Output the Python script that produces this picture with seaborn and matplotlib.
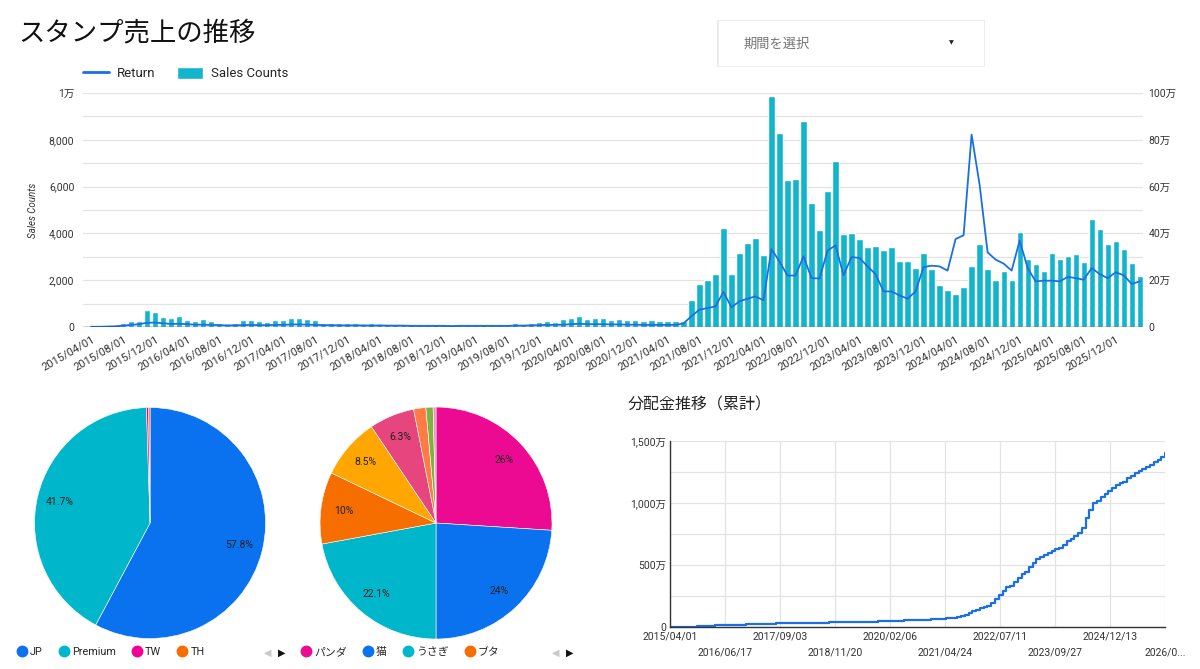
import numpy as np
import pandas as pd
import matplotlib
matplotlib.use('Agg')
import matplotlib.pyplot as plt
import matplotlib.patches as mpatches
from matplotlib.lines import Line2D
import seaborn as sns

# ---- data ----
start_month = '2015-04-01'

sales_counts = [
    20, 30, 50, 80, 170, 240, 270, 710, 640, 430,
    385, 455, 300, 260, 340, 260, 170, 130, 170, 300,
    300, 260, 230, 300, 300, 370, 370, 340, 285, 170,
    170, 170, 170, 170, 130, 170, 130, 130, 130, 90,
    115, 80, 100, 130, 70, 70, 100, 100, 100, 130,
    100, 100, 100, 170, 115, 170, 215, 240, 200, 340,
    400, 470, 330, 400, 400, 300, 360, 285, 285, 240,
    285, 240, 240, 240, 240, 1140, 1850, 2000, 2270, 4230,
    2270, 3180, 3590, 3820, 3090, 9860, 8300, 6280, 6320, 8790,
    5300, 4130, 5830, 7090, 3970, 4000, 3770, 3430, 3480, 3290,
    3430, 2830, 2830, 2520, 3180, 2480, 1810, 1580, 1420, 1700,
    2590, 3550, 2480, 1990, 2410, 1990, 4040, 2890, 2680, 2380,
    3150, 2890, 3020, 3130, 2790, 4620, 4190, 3560, 3660, 3320,
    2720, 2180,
]

# monthly return, in 万 (10,000 yen)
returns_man = [
    0.1, 0.1, 0.2, 0.3, 0.6, 0.9, 1.2, 1.8, 1.9, 1.6,
    1.3, 1.4, 1.2, 1.0, 1.0, 0.9, 0.8, 0.7, 0.7, 0.8,
    0.9, 0.8, 0.8, 0.9, 0.9, 1.1, 1.1, 1.0, 0.9, 0.8,
    0.8, 0.7, 0.7, 0.7, 0.7, 0.6, 0.7, 0.6, 0.6, 0.6,
    0.5, 0.5, 0.5, 0.5, 0.5, 0.4, 0.5, 0.5, 0.5, 0.5,
    0.5, 0.5, 0.5, 0.6, 0.6, 0.7, 0.8, 0.9, 0.9, 1.0,
    1.2, 1.4, 1.2, 1.2, 1.2, 1.1, 1.1, 1.0, 1.0, 0.9,
    0.9, 0.9, 0.9, 0.9, 1.5, 4.6, 7.4, 8.1, 8.8, 15.0,
    8.4, 11.0, 12.1, 13.1, 11.4, 33.3, 28.0, 22.0, 22.0, 30.2,
    20.9, 20.7, 32.6, 34.9, 22.1, 29.9, 29.5, 25.9, 22.6, 15.2,
    15.2, 13.5, 12.1, 15.2, 25.6, 26.2, 25.9, 24.1, 37.6, 39.2,
    82.2, 60.8, 31.9, 28.8, 27.1, 24.1, 36.9, 25.2, 19.5, 19.8,
    19.8, 19.5, 21.4, 20.9, 20.2, 25.2, 22.6, 20.9, 23.4, 22.1,
    18.4, 19.5,
]

# cumulative distribution, in 万
cumulative_man = [
    0, 0.2, 0.5, 1, 1.5, 2.5, 3.5, 5, 7, 8.5,
    10, 11.5, 13, 14, 15.5, 16.5, 17.5, 18.3, 19, 20,
    21, 22, 22.8, 23.7, 24.6, 25.6, 26.7, 27.7, 28.6, 29.3,
    30, 30.6, 31.2, 31.8, 32.4, 33, 33.6, 34.2, 34.8, 35.2,
    35.6, 36, 36.5, 37, 37.8, 38.3, 38.8, 39.4, 40, 40.6,
    41.2, 41.8, 42.4, 43.2, 44, 44.8, 45.8, 46.8, 48, 49.2,
    50.5, 52, 53.3, 54.6, 55.8, 57, 58, 59, 60, 62,
    64, 65, 67, 69, 71, 73, 80, 90, 100, 110,
    125, 140, 151, 163, 172, 190, 225, 255, 290, 320,
    331, 364, 395, 425, 444, 485, 515, 550, 565, 580,
    598, 612, 625, 640, 660, 690, 710, 735, 760, 800,
    880, 945, 997, 1020, 1050, 1075, 1100, 1125, 1145, 1160,
    1172, 1200, 1220, 1239, 1255, 1275, 1290, 1307, 1330, 1350,
    1375, 1401,
]

cum_tick_dates = ['2015/04/01', '2016/06/17', '2017/09/03', '2018/11/20', '2020/02/06',
                  '2021/04/24', '2022/07/11', '2023/09/27', '2024/12/13', '2026/03/01']

region_names = ['JP', 'Premium', 'TW', 'TH']
region_share = [57.8, 41.7, 0.3, 0.2]

character_names = ['パンダ', '猫', 'うさぎ', 'ブタ']
character_share = [26.0, 24.0, 22.1, 10.0, 8.5, 6.3, 1.7, 1.0, 0.4]

# ---- styling ----
TEAL = '#12b5cb'
BLUE = '#1a6fe6'
GRID = '#e3e3e3'
TXT = '#333333'
region_colors = ['#0a72ee', '#00b6cb', '#f10096', '#f66d00']
character_colors = ['#ec0a92', '#0a72ee', '#00b6cb', '#f66d00', '#ffa600',
                    '#e6457d', '#ff7a45', '#7cb342', '#f48fb1']

sns.set_style('white')
plt.rcParams['font.family'] = ['Roboto', 'Noto Sans CJK JP', 'DejaVu Sans']

months = pd.date_range(start_month, periods=len(sales_counts), freq='MS')
df = pd.DataFrame({
    'month': months.strftime('%Y/%m/%d'),
    'sales': sales_counts,
    'ret': np.array(returns_man) * 1e4,
})
n = len(df)

fig = plt.figure(figsize=(12, 6.69), dpi=100)

# title + period selector
fig.text(0.015, 0.951, 'スタンプ売上の推移', fontsize=19, va='center', color='#111111')
fig.add_artist(mpatches.Rectangle((0.5975, 0.8995), 0.2235, 0.0700, transform=fig.transFigure,
                                  facecolor='#d9d9d9', edgecolor='none', alpha=0.6))
fig.add_artist(mpatches.Rectangle((0.5983, 0.9015), 0.2220, 0.0680, transform=fig.transFigure,
                                  facecolor='white', edgecolor='#eeeeee', lw=0.6))
fig.text(0.620, 0.934, '期間を選択', fontsize=9.5, va='center', color='#757575')
fig.text(0.793, 0.936, '▼', fontsize=4.5, va='center', ha='center', color='#222222',
         family='DejaVu Sans')

# ---- top: sales counts bars + return line ----
ax = fig.add_axes([0.0689, 0.5112, 0.8836, 0.3498])
sns.barplot(data=df, x='month', y='sales', color=TEAL, saturation=1, width=0.78, ax=ax)
ax2 = ax.twinx()
sns.lineplot(x=np.arange(n), y=df['ret'].values, ax=ax2, color=BLUE, lw=1.3)
ax.set_xlim(-1.04, n - 1 + 0.41)

ax.set_ylim(0, 10000)
yt = np.arange(0, 10001, 1000)
ax.set_yticks(yt)
ax.set_yticklabels([('1万' if v == 10000 else f'{v:,}') if v % 2000 == 0 else '' for v in yt])
ax.yaxis.grid(True, color=GRID, lw=0.9)
ax.set_axisbelow(True)
ax.set_ylabel('Sales Counts', fontsize=7, style='italic', color=TXT, labelpad=8)
ax.set_xlabel('')

ax2.set_ylim(0, 1e6)
yt2 = np.arange(0, 1e6 + 1, 2e5)
ax2.set_yticks(yt2)
ax2.set_yticklabels(['0' if v == 0 else f'{int(v / 1e4)}万' for v in yt2])
ax2.set_ylabel('')

ax.set_xticks(range(0, n, 4))
ax.set_xticklabels(df['month'][::4], rotation=30, ha='right', va='top',
                   rotation_mode='anchor')
ax.tick_params(axis='x', length=3, color='#cccccc', labelsize=8, labelcolor=TXT, pad=2)
ax.tick_params(axis='y', length=0, labelsize=7.5, labelcolor=TXT, pad=6)
ax2.tick_params(axis='y', length=0, labelsize=7.5, labelcolor=TXT, pad=4)
for a in (ax, ax2):
    for s in ('top', 'right', 'left', 'bottom'):
        a.spines[s].set_visible(False)
ax2.axhline(0, color='#222222', lw=1.0, zorder=5)

fig.legend([Line2D([], [], color=BLUE, lw=2), mpatches.Patch(facecolor=TEAL)],
           ['Return', 'Sales Counts'], loc='center left', bbox_to_anchor=(0.069, 0.890),
           ncol=2, frameon=False, fontsize=9.5, handlelength=2.0, handleheight=1.1,
           columnspacing=1.6, handletextpad=0.6, borderpad=0, borderaxespad=0)


# ---- pies ----
def pct_label(p):
    if p < 5:
        return ''
    return f'{p:.1f}'.rstrip('0').rstrip('.') + '%'


def draw_pie(rect, values, colors):
    axp = fig.add_axes(rect)
    axp.pie(values, colors=colors, startangle=90, counterclock=False,
            autopct=pct_label, pctdistance=0.8,
            wedgeprops=dict(linewidth=0.4, edgecolor='white'),
            textprops=dict(fontsize=7.5, color='#222222'))
    axp.set_xlim(-1, 1)
    axp.set_ylim(-1, 1)
    return axp


def pie_legend(axp, names, colors, x0):
    handles = [Line2D([], [], marker='o', ls='', markersize=7.5, markerfacecolor=c,
                      markeredgecolor=c) for c in colors]
    axp.legend(handles, names, loc='center left', bbox_to_anchor=(x0, 0.025),
               bbox_transform=fig.transFigure, ncol=len(names), frameon=False,
               fontsize=7.8, handlelength=0.9, handletextpad=0.3, columnspacing=1.5,
               borderpad=0, borderaxespad=0)


ax_p1 = draw_pie([0.0288, 0.0448, 0.1925, 0.3468], region_share, region_colors)
pie_legend(ax_p1, region_names, region_colors, 0.014)
ax_p2 = draw_pie([0.2667, 0.0448, 0.1933, 0.3468], character_share, character_colors)
pie_legend(ax_p2, character_names, character_colors[:4], 0.251)

for xl in (0.220, 0.460):
    fig.text(xl, 0.025, '◀', fontsize=7, color='#c8c8c8', va='center', family='DejaVu Sans')
    fig.text(xl + 0.0115, 0.025, '▶', fontsize=7, color='#111111', va='center',
             family='DejaVu Sans')

# ---- cumulative distribution ----
fig.text(0.523, 0.395, '分配金推移（累計）', fontsize=11.5, va='center', color='#222222')
ax_c = fig.add_axes([0.5583, 0.0628, 0.4125, 0.278])
sns.lineplot(x=months, y=cumulative_man, ax=ax_c, color=BLUE, lw=1.6, drawstyle='steps-post')
ax_c.set_xlim(months[0], months[-1])
ax_c.set_ylim(0, 1500)
ct = np.arange(0, 1501, 250)
ax_c.set_yticks(ct)
ax_c.set_yticklabels([('0' if v == 0 else f'{v:,}万') if v % 500 == 0 else '' for v in ct])
tick_dt = pd.to_datetime(cum_tick_dates, format='%Y/%m/%d')
ax_c.set_xticks(tick_dt)
xl_labels = []
for k, s in enumerate(cum_tick_dates):
    if k == len(cum_tick_dates) - 1:
        s = s[:6] + '...'
    xl_labels.append(s if k % 2 == 0 else '\n' + s)
ax_c.set_xticklabels(xl_labels, ha='center', linespacing=1.75)
ax_c.grid(True, color=GRID, lw=0.9)
ax_c.tick_params(length=0, labelsize=7.5, labelcolor=TXT, pad=3)
for s in ('top', 'right'):
    ax_c.spines[s].set_visible(False)
for s in ('left', 'bottom'):
    ax_c.spines[s].set_color('#333333')
    ax_c.spines[s].set_linewidth(1.0)
ax_c.set_xlabel('')
ax_c.set_ylabel('')

fig.savefig('out.png', dpi=100)
